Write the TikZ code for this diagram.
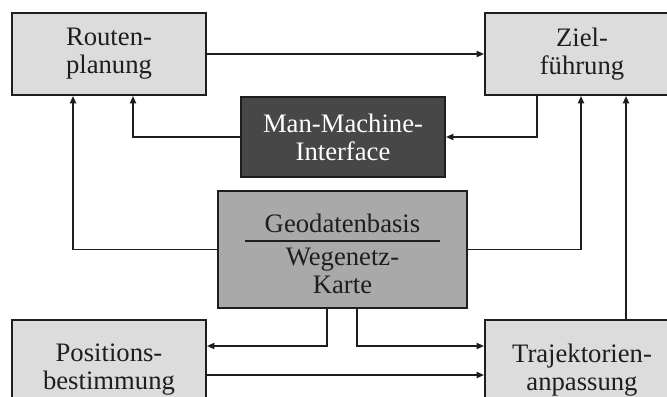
\documentclass[tikz,border=0pt]{standalone}
\usepackage{fontspec}
\setmainfont{Liberation Serif}
\usetikzlibrary{arrows.meta}
\definecolor{lightbox}{HTML}{DCDCDC}
\definecolor{darkbox}{HTML}{474747}
\definecolor{midbox}{HTML}{A9A9A9}
\definecolor{ink}{HTML}{1E1E1E}
\tikzset{
  box/.style={draw=ink, line width=1.4pt, align=center, text=ink,
    font=\fontsize{20}{21}\selectfont, inner sep=0pt},
  lbox/.style={box, fill=lightbox, minimum width=145.5pt, minimum height=61.5pt},
  conn/.style={draw=ink, line width=1.4pt, -{Triangle[length=5.5pt,width=4.5pt]}},
  plain/.style={draw=ink, line width=1.4pt},
  txt/.style={text=ink, font=\fontsize{20}{21}\selectfont, align=center, inner sep=0pt}
}
\begin{document}
\begin{tikzpicture}[x=0.75pt,y=-0.75pt]
\useasboundingbox (0,0) rectangle (667,396);
\clip (0,0) rectangle (667,396);
\fill[white] (0,0) rectangle (667,396);
% boxes
\node[lbox] (r) at (109,54) {Routen-\\planung};
\node[lbox] (z) at (582,54) {Ziel-\\führung};
\node[box, fill=darkbox, text=white, minimum width=153pt, minimum height=60pt] (m) at (343,137) {Man-Machine-\\Interface};
\node[box, fill=midbox, minimum width=186.75pt, minimum height=87.75pt] (g) at (342.5,249.5) {};
\node[txt, anchor=base] (g1) at (342.5,232) {Geodatenbasis};
\node[txt, anchor=base] (g2) at (342.5,265) {Wegenetz-};
\node[txt, anchor=base] (g3) at (342.5,293) {Karte};
\coordinate (dl) at (245,241);
\coordinate (dr) at (440,241);
\draw[plain, line width=1.2pt] (dl) -- (dr);
\node[lbox, minimum height=75pt] (p) at (109,370) {Positions-\\bestimmung};
\node[lbox, minimum height=75pt] (t) at (582,370) {Trajektorien-\\anpassung};
% helper coordinates
\coordinate (x133) at (133,0);
\coordinate (x537) at (537,0);
\coordinate (x73) at (73,0);
\coordinate (x581) at (581,0);
\coordinate (x626) at (626,0);
\coordinate (x327) at (327,0);
\coordinate (x357) at (357,0);
\coordinate (y346) at (0,346);
\coordinate (y375) at (0,375);
% connectors
\draw[conn] (r.east) -- (z.west);
\draw[conn] (m.west) -| (r.south -| x133);
\draw[conn] (z.south -| x537) |- (m.east);
\draw[conn] (g.west) -| (r.south -| x73);
\draw[conn] (g.east) -| (z.south -| x581);
\draw[conn] (t.north -| x626) -- (z.south -| x626);
\draw[conn] (g.south -| x327) |- (p.east |- y346);
\draw[conn] (g.south -| x357) |- (t.west |- y346);
\draw[conn] (p.east |- y375) -- (t.west |- y375);
\end{tikzpicture}
\end{document}
